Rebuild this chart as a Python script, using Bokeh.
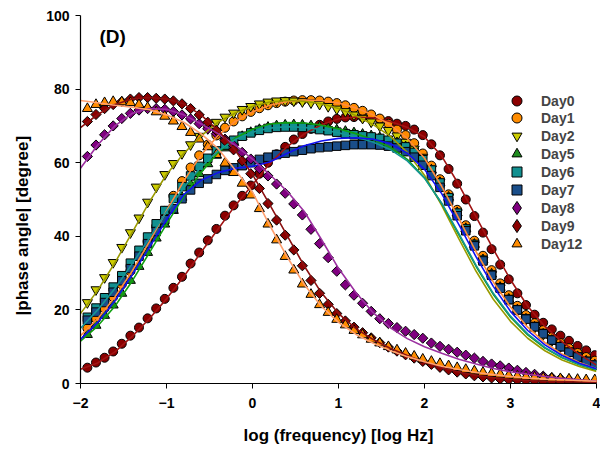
import numpy as np
from bokeh.plotting import figure
from bokeh.models import Range1d, FixedTicker, Legend, LegendItem, Label, Title
from bokeh.embed import file_html
from bokeh.resources import INLINE

# measured points: log frequency grid (10 points per decade)
log_f = [round(-1.92 + 0.1 * i, 2) for i in range(60)]
# fitted curves grid
log_f_fit = [round(-2.0 + 0.2 * i, 1) for i in range(31)]

day0 = [4.3, 5.7, 7.0, 8.7, 10.8, 13.0, 15.2, 17.7, 20.4, 23.0,
        26.0, 29.0, 32.6, 35.6, 38.9, 42.0, 45.6, 48.4, 51.0, 53.8,
        57.0, 60.0, 62.3, 64.3, 66.3, 67.8, 69.2, 70.3, 71.2, 71.9,
        72.3, 72.4, 72.4, 72.2, 71.8, 71.3, 70.6, 70.0, 69.0, 67.5,
        65.0, 62.0, 58.3, 54.3, 50.0, 45.5, 41.0, 36.5, 32.3, 28.3,
        24.5, 21.3, 18.7, 16.5, 14.7, 13.0, 11.6, 10.2, 9.0, 7.7]
day1 = [15.0, 17.6, 20.4, 23.5, 26.9, 30.5, 34.4, 38.5, 42.7, 46.9,
        51.0, 55.0, 58.7, 62.0, 64.9, 67.4, 69.5, 71.2, 72.6, 73.8,
        74.8, 75.6, 76.2, 76.6, 76.9, 77.0, 77.0, 76.9, 76.6, 76.2,
        75.6, 74.9, 74.1, 73.1, 72.0, 70.6, 69.0, 67.5, 65.3, 62.5,
        59.2, 55.5, 51.4, 47.2, 43.0, 38.8, 34.7, 30.8, 27.2, 24.0,
        21.1, 18.6, 16.4, 14.5, 12.6, 11.0, 9.6, 8.3, 7.2, 6.2]
day2 = [22.0, 25.5, 28.8, 32.9, 37.0, 41.0, 45.0, 49.3, 53.4, 56.8,
        59.8, 62.5, 64.9, 67.2, 69.3, 71.0, 72.4, 73.5, 74.5, 75.3,
        76.0, 76.5, 76.8, 76.9, 76.8, 76.6, 76.3, 75.9, 75.3, 74.6,
        73.9, 73.0, 72.1, 71.1, 70.0, 68.8, 67.3, 65.6, 63.7, 61.5,
        58.3, 54.6, 50.6, 46.4, 42.0, 37.7, 33.5, 29.6, 26.0, 22.8,
        19.9, 17.4, 15.2, 13.3, 11.6, 10.0, 8.6, 7.3, 6.1, 5.1]
day5 = [13.3, 15.8, 18.5, 21.3, 24.5, 28.0, 31.8, 35.6, 39.5, 43.3,
        47.0, 50.6, 54.0, 57.0, 59.7, 62.0, 64.0, 65.7, 67.1, 68.2,
        69.0, 69.6, 70.0, 70.2, 70.3, 70.2, 70.0, 69.7, 69.3, 68.9,
        68.5, 68.1, 67.7, 67.3, 66.8, 66.2, 65.4, 64.3, 62.8, 60.7,
        58.0, 54.6, 50.6, 46.4, 42.1, 37.8, 33.6, 29.7, 26.1, 22.9,
        20.0, 17.5, 15.3, 13.4, 11.7, 10.0, 8.6, 7.3, 6.1, 5.1]
day6 = [18.0, 20.5, 23.3, 26.2, 29.3, 32.7, 36.2, 39.8, 43.4, 47.0,
        50.3, 53.5, 56.4, 59.0, 61.2, 63.2, 64.8, 66.1, 67.2, 68.1,
        68.8, 69.3, 69.6, 69.7, 69.7, 69.6, 69.3, 69.0, 68.7, 68.3,
        67.9, 67.6, 67.3, 67.0, 66.6, 66.1, 65.3, 64.3, 62.8, 60.8,
        58.0, 54.5, 50.5, 46.3, 42.0, 37.8, 33.5, 29.5, 26.0, 22.8,
        20.0, 17.6, 15.5, 13.6, 11.8, 10.0, 8.5, 7.2, 6.0, 5.0]
day7 = [17.2, 19.4, 22.0, 24.8, 27.9, 31.2, 34.6, 38.0, 41.3, 44.5,
        47.5, 50.2, 52.6, 54.4, 55.6, 56.8, 57.9, 58.6, 59.2, 60.0,
        60.9, 61.5, 62.2, 62.6, 63.0, 63.4, 63.8, 64.1, 64.3, 64.5,
        64.7, 64.9, 64.9, 64.9, 64.8, 64.5, 64.0, 63.0, 61.5, 59.3,
        56.5, 53.3, 49.6, 45.6, 41.5, 37.4, 33.3, 29.4, 25.9, 22.8,
        20.0, 17.5, 15.4, 13.5, 11.8, 10.0, 8.5, 7.2, 6.0, 5.0]
day8 = [61.7, 64.8, 67.6, 70.0, 72.0, 73.4, 74.3, 74.7, 74.7, 74.5,
        73.9, 73.0, 71.9, 70.6, 69.2, 67.9, 66.4, 64.7, 62.8, 61.0,
        58.4, 56.4, 54.2, 51.7, 48.8, 45.8, 41.9, 38.0, 34.2, 30.5,
        26.8, 24.0, 21.8, 19.6, 17.6, 16.3, 15.2, 14.2, 13.3, 12.3,
        11.0, 10.1, 9.3, 8.5, 7.7, 6.9, 6.0, 5.3, 4.8, 4.2,
        3.6, 3.0, 2.5, 2.0, 1.6, 1.3, 1.0, 0.7, 0.5, 0.3]
day9 = [71.2, 73.1, 74.7, 75.8, 76.6, 77.3, 77.7, 77.7, 77.5, 77.3,
        76.8, 76.0, 74.7, 73.0, 71.0, 68.8, 66.0, 63.5, 60.5, 57.0,
        53.0, 48.9, 44.4, 40.3, 36.3, 32.0, 28.0, 24.5, 21.5, 19.0,
        17.0, 15.3, 13.8, 12.4, 11.1, 9.9, 8.8, 7.8, 6.9, 6.0,
        5.2, 4.4, 3.7, 3.1, 2.6, 2.1, 1.8, 1.5, 1.2, 1.0,
        0.9, 0.8, 0.7, 0.6, 0.6, 0.5, 0.5, 0.4, 0.4, 0.4]
day12 = [74.7, 75.8, 76.3, 76.6, 76.5, 76.3, 75.8, 75.0, 73.8, 72.6,
         71.3, 69.8, 68.2, 66.4, 64.3, 62.2, 59.9, 57.3, 54.4, 51.2,
         47.5, 43.3, 39.0, 34.5, 30.8, 27.0, 24.2, 21.4, 19.3, 17.4,
         15.9, 14.4, 13.2, 12.0, 11.0, 10.0, 9.1, 8.2, 7.4, 6.6,
         6.0, 5.4, 4.8, 4.3, 3.8, 3.4, 3.0, 2.7, 2.5, 2.2,
         2.0, 1.8, 1.7, 1.5, 1.4, 1.3, 1.2, 1.1, 1.0, 1.0]

fit0 = [3.9, 5.6, 8.6, 12.8, 17.6, 23.0, 29.0, 35.6, 42.0, 48.4, 54.0, 59.8, 64.3, 67.8, 70.3, 71.9,
        72.4, 72.2, 71.2, 69.6, 67.0, 61.8, 54.0, 45.3, 36.5, 28.2, 21.0, 15.5, 11.3, 7.9, 5.0]
fit1 = [13.0, 17.6, 23.5, 30.5, 38.5, 46.9, 55.0, 62.0, 67.4, 71.2, 73.8, 75.6, 76.6, 77.0, 76.9, 76.2,
        74.9, 73.0, 70.3, 66.6, 61.2, 53.6, 44.8, 35.8, 27.6, 20.8, 15.3, 11.1, 8.0, 5.7, 4.0]
fit2 = [19.0, 25.3, 32.8, 41.0, 49.3, 56.8, 62.5, 67.2, 71.0, 73.5, 75.3, 76.5, 76.9, 76.7, 76.0, 74.7,
        72.8, 70.4, 67.2, 62.8, 56.6, 48.4, 39.3, 30.5, 22.9, 16.9, 12.3, 8.9, 6.4, 4.6, 3.3]
fit5 = [11.5, 15.6, 21.0, 27.8, 35.5, 43.3, 50.8, 57.3, 62.8, 66.7, 69.1, 70.5, 70.9, 70.8, 70.2, 69.2,
        67.9, 66.3, 64.2, 60.9, 55.9, 48.9, 40.4, 31.8, 24.2, 18.0, 13.2, 9.6, 7.0, 5.1, 3.7]
fit6 = [15.0, 20.0, 25.8, 32.5, 39.5, 46.6, 53.2, 58.8, 63.2, 66.3, 68.3, 69.4, 69.8, 69.6, 69.0, 68.1,
        67.0, 65.6, 63.6, 60.5, 55.8, 49.0, 40.7, 32.1, 24.5, 18.3, 13.5, 9.8, 7.1, 5.2, 3.8]
fit7 = [12.0, 16.6, 22.5, 29.5, 37.0, 44.5, 51.3, 55.2, 57.3, 58.5, 59.0, 60.2, 62.5, 64.6, 65.9, 66.6,
        66.8, 66.4, 65.2, 62.6, 58.2, 51.6, 43.2, 34.4, 26.4, 19.6, 14.4, 10.5, 7.6, 5.5, 4.0]
fit8 = [58.5, 64.8, 70.0, 73.4, 74.7, 74.5, 73.0, 70.6, 67.9, 64.7, 61.0, 56.8, 52.3, 46.8, 39.2, 31.3,
        24.8, 19.3, 15.2, 12.2, 10.0, 8.2, 6.6, 5.3, 4.1, 3.2, 2.5, 1.9, 1.4, 1.0, 0.7]
fit9 = [69.5, 73.1, 75.8, 77.3, 77.7, 77.3, 76.0, 73.0, 68.8, 63.3, 56.8, 48.6, 40.3, 32.0, 24.7, 19.0,
        15.0, 12.0, 9.6, 7.6, 5.8, 4.3, 3.1, 2.2, 1.6, 1.1, 0.8, 0.6, 0.5, 0.4, 0.3]
fit12 = [76.9, 76.3, 75.6, 75.1, 74.4, 73.0, 71.0, 67.9, 63.8, 58.0, 52.0, 43.0, 34.5, 27.0, 21.0, 16.6,
         13.4, 11.0, 9.0, 7.3, 5.9, 4.7, 3.8, 3.0, 2.4, 1.9, 1.5, 1.2, 1.0, 0.8, 0.6]

names = ["Day0", "Day1", "Day2", "Day5", "Day6", "Day7", "Day8", "Day9", "Day12"]
data = [day0, day1, day2, day5, day6, day7, day8, day9, day12]
fits = [fit0, fit1, fit2, fit5, fit6, fit7, fit8, fit9, fit12]
markers = ["circle", "circle", "inverted_triangle", "triangle", "square", "square", "square", "square", "triangle"]
legend_markers = ["circle", "circle", "inverted_triangle", "triangle", "square", "square", "diamond", "diamond", "triangle"]
angles = [0, 0, 0, 0, 0, 0, np.pi / 4, np.pi / 4, 0]
sizes = [9, 9, 10, 10, 8.5, 8.5, 7.2, 7.2, 10]
fills = ["#8B0000", "#FF8C00", "#CCCC00", "#1E8C1E", "#129090", "#1A4E8A", "#800080", "#8B0000", "#FF8C00"]
lines = ["#A01414", "#FF8A3C", "#9A9A00", "#10A010", "#159595", "#1010F0", "#9B30A0", "#8B1010", "#FFA070"]

FONT = "Liberation Sans"

p = figure(width=600, height=455, output_backend="svg", toolbar_location=None,
           x_range=Range1d(-2, 4), y_range=Range1d(0, 100),
           min_border_left=80, min_border_right=4, min_border_top=15, min_border_bottom=72)
p.xgrid.visible = False
p.ygrid.visible = False
p.outline_line_color = None
p.background_fill_color = "white"

p.xaxis.ticker = FixedTicker(ticks=[-2, -1, 0, 1, 2, 3, 4])
p.yaxis.ticker = FixedTicker(ticks=[0, 20, 40, 60, 80, 100])
for ax in p.axis:
    ax.major_tick_in = 0
    ax.major_tick_out = 5
    ax.minor_tick_in = 0
    ax.minor_tick_out = 0
    ax.axis_line_color = "black"
    ax.axis_line_width = 1.2
    ax.major_tick_line_color = "black"
    ax.major_label_text_font = FONT
    ax.major_label_text_font_style = "bold"
    ax.major_label_text_font_size = "14px"
    ax.major_label_text_color = "black"
    ax.axis_label_text_font = FONT
    ax.axis_label_text_font_style = "bold"
    ax.axis_label_text_font_size = "17px"
    ax.axis_label_text_color = "black"
p.xaxis.axis_label = "log (frequency) [log Hz]"
p.xaxis.major_label_standoff = 9
p.xaxis.axis_label_standoff = 15
p.yaxis.major_label_standoff = 6

# y-axis title as a side title, shifted downwards like the original
ytitle = Title(text="|phase angle| [degree]", align="left", vertical_align="middle",
               offset=68, standoff=22, text_font=FONT, text_font_style="bold",
               text_font_size="17px", text_color="black")
p.add_layout(ytitle, "left")

renderers = []
for name, ys, mk, ang, sz, fc in zip(names, data, markers, angles, sizes, fills):
    r = p.scatter(log_f, ys, marker=mk, angle=ang, size=sz, fill_color=fc,
                  line_color="black", line_width=1)
    renderers.append(r)

for fy, lc in zip(fits, lines):
    p.line(log_f_fit, fy, line_color=lc, line_width=1.6)

# legend: one single-entry legend per series, stacked 18 px apart
for i, (name, r, ys, lm, fc) in enumerate(zip(names, renderers, data, legend_markers, fills)):
    gr = r
    gsize = 25
    xloc = 424
    standoff = 12
    if lm != markers[i]:
        # zero-size twin renderer that only provides the diamond symbol for the legend
        gr = p.scatter(log_f, ys, marker=lm, size=0, fill_color=fc, line_color="black", line_width=1)
        gsize = 33
        xloc = 420
        standoff = 8
    center = 100 + 17.9 * i
    yloc = int(round(383 - (center + gsize / 2)))
    lg = Legend(items=[LegendItem(label=name, renderers=[gr])], location=(xloc, yloc))
    lg.border_line_color = None
    lg.background_fill_alpha = 0
    lg.label_text_font = FONT
    lg.label_text_font_style = "bold"
    lg.label_text_font_size = "14px"
    lg.glyph_width = gsize
    lg.glyph_height = gsize
    lg.label_height = 15
    lg.label_standoff = standoff
    lg.spacing = 0
    lg.padding = 0
    lg.margin = 0
    p.add_layout(lg)

p.add_layout(Label(x=-1.78, y=94.3, text="(D)", text_font=FONT, text_font_style="bold",
                   text_font_size="19px", text_baseline="middle", text_color="black"))

open("out.html", "w").write(file_html(p, INLINE))
